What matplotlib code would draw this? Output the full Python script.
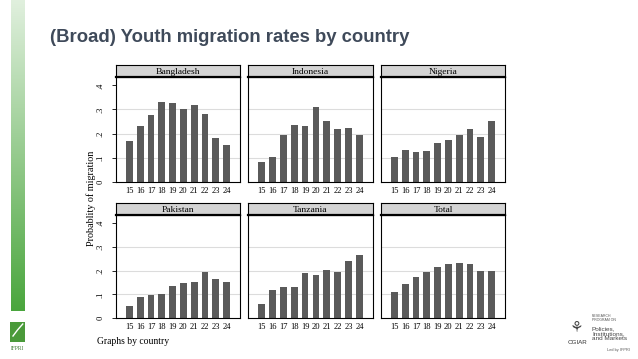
import numpy as np
import matplotlib
matplotlib.use("Agg")
import matplotlib.pyplot as plt

# ages on the x axis
ages = [15, 16, 17, 18, 19, 20, 21, 22, 23, 24]

bangladesh = [0.171, 0.233, 0.279, 0.333, 0.325, 0.304, 0.317, 0.283, 0.183, 0.154]
indonesia = [0.083, 0.104, 0.196, 0.237, 0.233, 0.312, 0.254, 0.221, 0.225, 0.192]
nigeria = [0.104, 0.133, 0.125, 0.129, 0.162, 0.175, 0.194, 0.217, 0.187, 0.254]
pakistan = [0.049, 0.090, 0.099, 0.100, 0.136, 0.146, 0.154, 0.196, 0.163, 0.154]
tanzania = [0.060, 0.120, 0.129, 0.133, 0.192, 0.182, 0.202, 0.196, 0.241, 0.268]
total = [0.108, 0.142, 0.175, 0.196, 0.217, 0.230, 0.234, 0.226, 0.200, 0.200]

countries = ["Bangladesh", "Indonesia", "Nigeria", "Pakistan", "Tanzania", "Total"]
series = [bangladesh, indonesia, nigeria, pakistan, tanzania, total]
yticks = [0, 0.1, 0.2, 0.3, 0.4]
ytick_labels = ["0", ".1", ".2", ".3", ".4"]

W, H = 638, 359
fig = plt.figure(figsize=(W / 100, H / 100), dpi=100)
serif = "Liberation Serif"

def box(x0, y0, x1, y1):
    # pixel box (top-left origin) -> figure fraction rect
    return [x0 / W, 1 - y1 / H, (x1 - x0) / W, (y1 - y0) / H]

# left green gradient bar
gax = fig.add_axes(box(11, 0, 25, 311))
grad = np.linspace(0, 1, 256).reshape(-1, 1)
top = np.array([0.88, 0.94, 0.87])
bot = np.array([0.29, 0.65, 0.24])
img = top + (bot - top) * grad[..., None]
gax.imshow(img, aspect="auto", extent=[0, 1, 0, 1])
gax.axis("off")

# IFPRI logo (rough)
lax = fig.add_axes(box(10, 322, 25, 342))
lax.set_facecolor("#4a9a3a")
lax.set_xticks([]); lax.set_yticks([])
for s in lax.spines.values():
    s.set_visible(False)
lax.plot([0.2, 0.5, 0.85], [0.3, 0.6, 0.9], color="white", lw=1)
lax.set_xlim(0, 1); lax.set_ylim(0, 1)
fig.text(17.5 / W, 1 - 349 / H, "IFPRI", fontsize=4, color="#3a7a30",
         ha="center", va="center", family=serif)

# title
fig.text(50 / W, 1 - 38 / H, "(Broad) Youth migration rates by country",
         fontsize=13.3, fontweight="bold", color="#3f4a5a",
         family="Liberation Sans", ha="left", va="center")

col_x = [(116, 240), (248, 373), (381, 505)]
row_y = [(65, 77, 181.7), (203, 215, 318)]

for i, (name, vals) in enumerate(zip(countries, series)):
    r, c = divmod(i, 3)
    x0, x1 = col_x[c]
    s0, s1, yb = row_y[r]

    ax = fig.add_axes(box(x0, s1, x1, yb))
    for yv in [0.1, 0.2, 0.3]:
        ax.axhline(yv, color="#dcdcdc", lw=0.8, zorder=0)
    ax.bar(ages, vals, width=0.63, color="#5a5a5a", zorder=2)
    ax.set_xlim(13.75, 25.25)
    ax.set_ylim(0, 0.435)
    for s in ax.spines.values():
        s.set_color("black")
        s.set_linewidth(0.8)
    ax.set_xticks(ages)
    ax.set_xticklabels([str(a) for a in ages], fontsize=6.1, family=serif)
    ax.tick_params(axis="x", length=0, pad=3.5)
    if c == 0:
        ax.set_yticks(yticks)
        ax.set_yticklabels(ytick_labels, fontsize=6.1, family=serif,
                           rotation=90, va="center")
        ax.tick_params(axis="y", length=3, width=0.6, pad=5)
    else:
        ax.set_yticks([])

    sax = fig.add_axes(box(x0, s0, x1, s1))
    sax.set_facecolor("#d4d4d4")
    sax.set_xticks([]); sax.set_yticks([])
    for s in sax.spines.values():
        s.set_color("black")
        s.set_linewidth(0.8)
    sax.spines["bottom"].set_linewidth(1.6)
    sax.text(0.5, 0.45, name, transform=sax.transAxes, ha="center",
             va="center", fontsize=6.8, family=serif)

fig.text(91 / W, 1 - 198.5 / H, "Probablity of migration", rotation=90,
         fontsize=7.3, family=serif, ha="center", va="center")
fig.text(97 / W, 1 - 341.5 / H, "Graphs by country", fontsize=6.9,
         family=serif, ha="left", va="center")

# CGIAR logo (rough)
fig.text(577 / W, 1 - 328 / H, "\u2698", fontsize=11, color="#444444",
         ha="center", va="center", family="DejaVu Sans")
fig.text(577 / W, 1 - 343 / H, "CGIAR", fontsize=4.5, color="#333333",
         ha="center", va="center", family="Liberation Sans")
fig.text(592 / W, 1 - 318 / H, "RESEARCH\nPROGRAM ON", fontsize=2.5,
         color="#555555", ha="left", va="center", linespacing=1.0,
         family="Liberation Sans")
fig.text(592 / W, 1 - 334 / H, "Policies,\nInstitutions,\nand Markets",
         fontsize=4.6, color="#444444", ha="left", va="center",
         linespacing=1.0, family="Liberation Sans")
fig.text(630 / W, 1 - 350 / H, "Led by IFPRI", fontsize=2.8,
         color="#555555", ha="right", va="center", family="Liberation Sans")

fig.savefig("out.png", dpi=100)
